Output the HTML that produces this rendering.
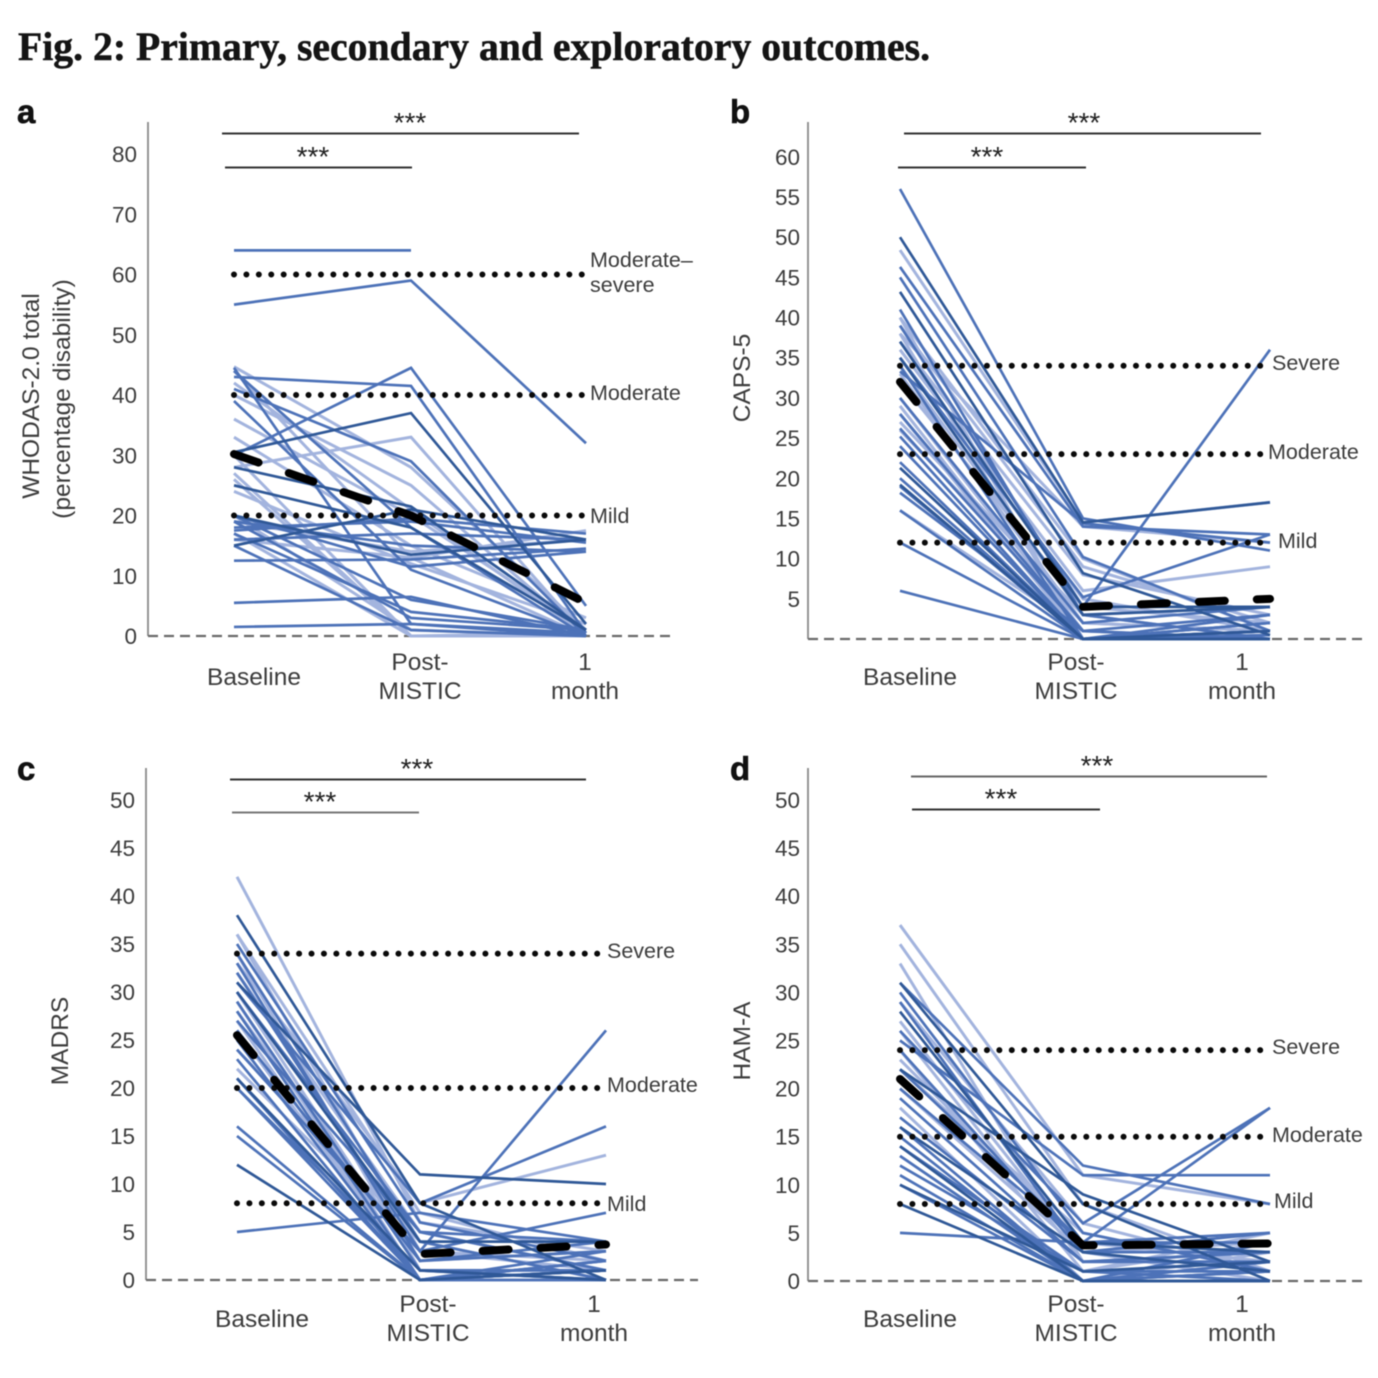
<!DOCTYPE html>
<html lang="en">
<head>
<meta charset="utf-8">
<title>Fig. 2: Primary, secondary and exploratory outcomes</title>
<style>
html,body{margin:0;padding:0;background:#fff}
svg{display:block;filter:blur(.6px)}
text{font-family:"Liberation Sans",Arial,sans-serif;fill:#3c3c3c}
.title{font-family:"Liberation Serif","Times New Roman",serif;font-weight:700;font-size:40px;fill:#141414;stroke:#141414;stroke-width:.5px}
.letter{font-weight:700;font-size:33px;fill:#111;stroke:#111;stroke-width:.6px}
.tick{font-size:22.5px}
.cat{font-size:24.5px;text-anchor:middle}
.th{font-size:21.5px}
.ax{font-size:24.5px;text-anchor:middle}
.star{font-size:28px;text-anchor:middle;fill:#222}
</style>
</head>
<body>
<svg id="chart" xmlns="http://www.w3.org/2000/svg" width="1378" height="1378" viewBox="0 0 1378 1378">
<rect width="1378" height="1378" fill="#fff"/>
<text class="title" x="18" y="60" textLength="912" lengthAdjust="spacingAndGlyphs">Fig. 2: Primary, secondary and exploratory outcomes.</text>
</svg>
<script>
// Shared categories
const categories = [["Baseline"], ["Post-", "MISTIC"], ["1", "month"]];

// Panel a: WHODAS-2.0 [baseline, post-MISTIC, 1 month]
const aTicks = [0, 10, 20, 30, 40, 50, 60, 70, 80];
const aThresholds = [60, 40, 20];
const aMean = [30.2, 20, 5.5];
const aLight = [[44.7,28,1],[36,20,1],[28,33,0],[27,0,0],[44,13,0],[40,25,0],[19,14,16],[26,0,0.5],[33,15,3],[20,1,0],[17,0,0],[30,0,0],[16,13,17.5],[42,21,0],[24,12,2]];
const aMid = [[64,64,null],[55,59,32],[43,41.5,0.5],[30,44.5,5],[44.5,2,0],[39,11,0],[20,6,1],[19,3,1],[5.5,6.5,0],[1.5,2,0.5],[12.5,12.7,14.5],[18,19,15.5],[16,17,16],[17.5,19.5,17],[19,15,14],[17,4,1],[15,1,0],[44,18,0],[20,11.5,14],[41,29,0]];
const aDark = [[30.5,37,2],[25,18,1],[28,21.5,1],[15,21,16],[20,13.5,16]];

// Panel b: CAPS-5
const bTicks = [5, 10, 15, 20, 25, 30, 35, 40, 45, 50, 55, 60];
const bThresholds = [34, 23, 12];
const bMean = [32, 4, 5];
const bLight = [[48.4,14.5,17],[40,10,1],[39,9,2],[38,14,12],[37,8,3],[36,6,9],[35,5,1],[34,3,0],[33,2,1],[32,4,2],[30,1,0],[29,0,0],[28,0,1],[27,3,4],[26,2,1],[16,1,0],[40,0,0],[38,0,1]];
const bMid = [[56,15,11],[46.3,14,13],[45,10.2,1],[41,3,0],[35,5.2,13],[33.3,14.4,12],[26.2,1,0],[25.2,0,1],[24,0,0],[22,0,2],[20,0,1],[18.2,1,0],[16,0,1],[12,0,0],[6,0,0.5],[39,4,36],[34,0,3],[30,2,4],[28,1,3],[19,0,2]];
const bDark = [[50,14.5,17],[43.2,8.2,0.5],[35,3,4],[21.3,0,1],[19.2,0,0],[37,4,4]];

// Panel c: MADRS
const cTicks = [0, 5, 10, 15, 20, 25, 30, 35, 40, 45, 50];
const cThresholds = [34, 20, 8];
const cMean = [25.5, 2.7, 3.7];
const cLight = [[42,6,3],[36,3,2],[33,8,13],[32,5,1],[30,1,0],[29,0,2],[28,2,3],[27,0,0],[26,0,1],[24,4,0],[21,0,2],[22,3,1],[36,7,2],[34,1,1]];
const cMid = [[35,6,2],[34,4,0],[33,2,3],[32,3,26],[31,8,16],[30,5,4],[29,1,1],[28,0,2],[23,0,1],[21,0,3],[20,1,0],[16,0,2],[15,0,1],[5,7,4],[25,0,0],[24,3,7],[26,2,4],[20,0,1],[27,5,1]];
const cDark = [[38,8,0],[31,11,10],[12,0,1],[21,1,0],[30,4,4]];

// Panel d: HAM-A
const dTicks = [0, 5, 10, 15, 20, 25, 30, 35, 40, 45, 50];
const dThresholds = [24, 15, 8];
const dMean = [21, 3.7, 3.9];
const dLight = [[37,11,8],[35,8,1],[29,6,1],[27,3,0],[26,2,3],[24,1,5],[23,4,2],[22,5,1],[18,0,2],[14,1,4],[13,0,3],[33,2,2],[20,3,4]];
const dMid = [[31,12,8],[30,5,1],[29,3,5],[26,6,18],[25,11,11],[22,4,18],[17,2,3],[16,0,1],[15,0,4],[14,1,0],[13,0,2],[11,0,1],[10,0,0],[5,4,5],[24,3,3],[19,2,2],[12,1,1],[20,4,4]];
const dDark = [[31,8,0],[22,9,2],[16,3,1],[14,0,0],[8,0,0],[10,1,2],[28,4,3]];

const svg = document.getElementById('chart');
const NS = 'http://www.w3.org/2000/svg';
const tones = { light: '#a3b4de', mid: '#4d72b8', dark: '#2f5897' };

function el(tag, parent, attrs, txt) {
  const n = document.createElementNS(NS, tag);
  for (const k in attrs) n.setAttribute(k, attrs[k]);
  if (txt !== undefined) n.textContent = txt;
  parent.appendChild(n);
  return n;
}

function drawPanel(p) {
  const g = el('g', svg, {});
  
  
  const y = v => p.y0 - v * p.ppu;
  const x = i => p.xs[i];

  const letter = el('text', g, { class: 'letter', x: p.letterX, y: p.letterY }, p.letter);
  
  

  const axis = el('line', g, { x1: p.axisX, x2: p.axisX, y1: p.axisTop, y2: y(0), stroke: '#8a8a8a', 'stroke-width': 1.8 });
  
  

  const zero = el('line', g, { x1: p.axisX, x2: p.axisEnd, y1: y(0), y2: y(0), stroke: '#6a6a6a', 'stroke-width': 2.2, 'stroke-dasharray': '10 6' });
  
  

  p.ticks.forEach(t => {
    const lab = el('text', g, { class: 'tick', x: p.tickX, y: y(t) + 8, 'text-anchor': 'end' }, t);
    
    
  });

  p.axisLabels.forEach(a => {
    const lab = el('text', g, { class: 'ax', transform: 'translate(' + a[1] + ',' + a[2] + ') rotate(-90)' }, a[0]);
    
    
  });

  categories.forEach((c, i) => {
    c.forEach((s, j) => {
      const yy = c.length === 1 ? p.catY + 15 : p.catY + j * 29;
      const lab = el('text', g, { class: 'cat', x: p.catX[i], y: yy + 8 }, s);
      
      
    });
  });

  const groups = [[p.light, 'light', 3], [p.mid, 'mid', 2.7], [p.dark, 'dark', 2.7]];
  groups.forEach(gr => {
    gr[0].forEach(s => {
      const pts = s.map((v, i) => v === null ? null : x(i) + ',' + y(v)).filter(Boolean).join(' ');
      const line = el('polyline', g, { points: pts, fill: 'none', stroke: tones[gr[1]], 'stroke-width': gr[2], 'stroke-linejoin': 'miter' });
      
      
    });
  });

  p.thresholds.forEach((t, i) => {
    const dots = el('line', g, { x1: x(0), x2: x(2), y1: y(t), y2: y(t), stroke: '#0a0a0a', 'stroke-width': 6, 'stroke-linecap': 'round', 'stroke-dasharray': '0 12.42' });
    
    
    p.thLabels[i].forEach(lab => {
      const tx = el('text', g, { class: 'th', x: lab[1], y: lab[2] + 7 }, lab[0]);
      
      
    });
  });

  const meanPts = p.mean.map((v, i) => x(i) + ',' + y(v)).join(' ');
  const mean = el('polyline', g, { points: meanPts, fill: 'none', stroke: '#000', 'stroke-width': 8, 'stroke-linecap': 'round', 'stroke-linejoin': 'round', 'stroke-dasharray': '26 32' });
  
  

  p.sig.forEach(b => {
    const br = el('line', g, { x1: b[0], x2: b[1], y1: b[2] + 0.5, y2: b[2] + 0.5, stroke: b[3], 'stroke-width': 1.9 });
    
    
    const st = el('text', g, { class: 'star', x: b[4], y: b[2] - 1 }, '***');
    
    
  });
}

drawPanel({
  letter: 'a', letterX: 17, letterY: 123, xs: [234, 411, 586], y0: 636, ppu: 6.025,
  axisX: 148, axisTop: 122, axisEnd: 673, tickX: 137, ticks: aTicks,
  catX: [254, 420, 585], catY: 662,
  axisLabels: [['WHODAS-2.0 total', 39, 396], ['(percentage disability)', 70, 399]],
  thresholds: aThresholds, mean: aMean, light: aLight, mid: aMid, dark: aDark,
  thLabels: [[['Moderate–', 590, 260], ['severe', 590, 285]], [['Moderate', 590, 393]], [['Mild', 590, 516]]],
  sig: [[222, 579, 133, '#333', 410], [225, 412, 167, '#333', 313]]
});
drawPanel({
  letter: 'b', letterX: 730, letterY: 123, xs: [900, 1083, 1270], y0: 639, ppu: 8.036,
  axisX: 808, axisTop: 122, axisEnd: 1362, tickX: 800, ticks: bTicks,
  catX: [910, 1076, 1242], catY: 662,
  axisLabels: [['CAPS-5', 750, 378]],
  thresholds: bThresholds, mean: bMean, light: bLight, mid: bMid, dark: bDark,
  thLabels: [[['Severe', 1272, 363]], [['Moderate', 1268, 452]], [['Mild', 1278, 541]]],
  sig: [[904, 1261, 133, '#333', 1084], [898, 1086, 167, '#333', 987]]
});
drawPanel({
  letter: 'c', letterX: 17, letterY: 780, xs: [237, 420, 606], y0: 1280, ppu: 9.6,
  axisX: 146, axisTop: 768, axisEnd: 698, tickX: 135, ticks: cTicks,
  catX: [262, 428, 594], catY: 1304,
  axisLabels: [['MADRS', 68, 1041]],
  thresholds: cThresholds, mean: cMean, light: cLight, mid: cMid, dark: cDark,
  thLabels: [[['Severe', 607, 951]], [['Moderate', 607, 1085]], [['Mild', 607, 1204]]],
  sig: [[230, 586, 779, '#333', 417], [232, 419, 812, '#777', 320]]
});
drawPanel({
  letter: 'd', letterX: 730, letterY: 780, xs: [900, 1083, 1270], y0: 1281, ppu: 9.62,
  axisX: 808, axisTop: 768, axisEnd: 1362, tickX: 800, ticks: dTicks,
  catX: [910, 1076, 1242], catY: 1304,
  axisLabels: [['HAM-A', 750, 1041]],
  thresholds: dThresholds, mean: dMean, light: dLight, mid: dMid, dark: dDark,
  thLabels: [[['Severe', 1272, 1047]], [['Moderate', 1272, 1135]], [['Mild', 1274, 1201]]],
  sig: [[911, 1267, 776, '#666', 1097], [912, 1100, 809, '#333', 1001]]
});
</script>
</body>
</html>
